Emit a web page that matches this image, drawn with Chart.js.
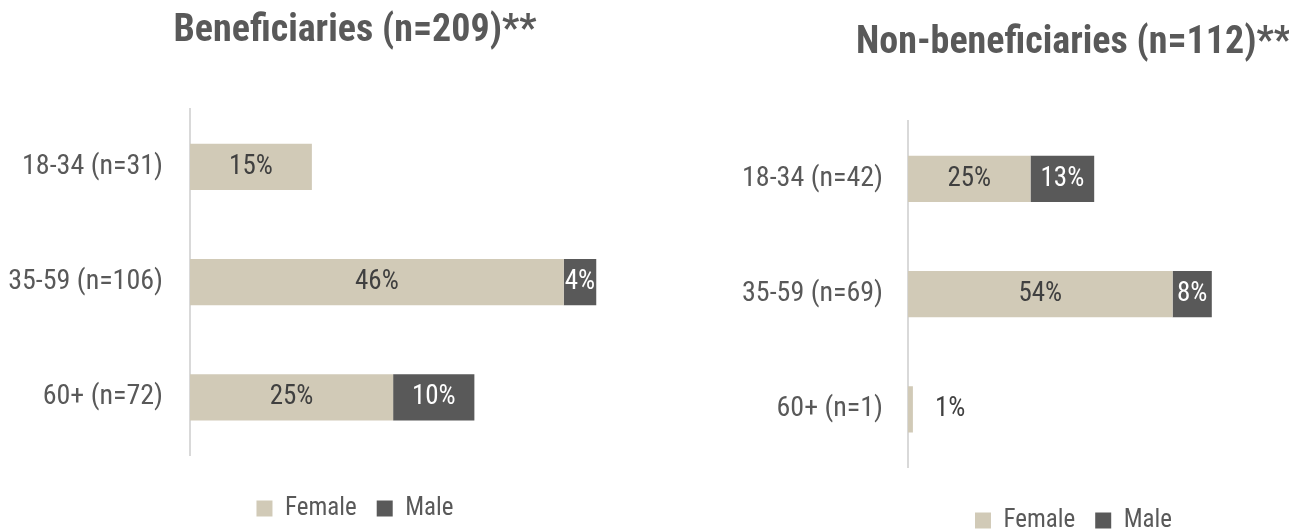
<!DOCTYPE html>
<html>
<head>
<meta charset="utf-8">
<title>Beneficiaries by age and sex</title>
<script src="https://cdn.jsdelivr.net/npm/chart.js@4"></script>
<style>
  html, body { margin: 0; padding: 0; background: #fff; overflow: hidden; }
  #leftChart { position: absolute; left: 0; top: 0; }
  #rightChart { position: absolute; left: 700px; top: 12px; }
</style>
</head>
<body>
<canvas id="leftChart" width="710" height="531"></canvas>
<canvas id="rightChart" width="747" height="531"></canvas>
<script>
// data (percent)
const seriesNames = ["Female", "Male"];

const benefTitle = "Beneficiaries (n=209)**";
const benefAges = ["18-34 (n=31)", "35-59 (n=106)", "60+ (n=72)"];
const benefFemale = [15, 46, 25];
const benefMale = [0, 4, 10];

const nonBenefTitle = "Non-beneficiaries (n=112)**";
const nonBenefAges = ["18-34 (n=42)", "35-59 (n=69)", "60+ (n=1)"];
const nonBenefFemale = [25, 54, 1];
const nonBenefMale = [13, 8, 0];

const FONT = "'Liberation Sans Narrow', 'Roboto Condensed', 'DejaVu Sans Condensed', sans-serif";
const femaleColor = "#d1cab7";
const maleColor = "#595959";
const textColor = "#595959";

Chart.defaults.font.family = FONT;
Chart.defaults.color = textColor;

// labels inside the bars (or just after a bar that is too thin)
const barLabels = {
  id: "barLabels",
  afterDatasetsDraw(chart) {
    const ctx = chart.ctx;
    ctx.save();
    ctx.font = "27px " + FONT;
    ctx.textBaseline = "middle";
    chart.data.datasets.forEach((ds, di) => {
      const meta = chart.getDatasetMeta(di);
      meta.data.forEach((bar, i) => {
        const v = ds.data[i];
        if (!v) return;
        const txt = v + "%";
        const w = Math.abs(bar.x - bar.base);
        if (w < 15) {
          ctx.fillStyle = "#404040";
          ctx.textAlign = "left";
          ctx.fillText(txt, bar.x + 22, bar.y);
        } else {
          ctx.fillStyle = di === 0 ? "#404040" : "#ffffff";
          ctx.textAlign = "center";
          ctx.fillText(txt, (bar.x + bar.base) / 2, bar.y);
        }
      });
    });
    ctx.restore();
  },
};

// the plot runs to the canvas edge so that title and legend centre where the picture has them
function makeChart(id, title, ages, female, male, xMax, yAxisWidth, tickPad) {
  return new Chart(document.getElementById(id), {
    type: "bar",
    data: {
      labels: ages,
      datasets: [
        { label: seriesNames[0], data: female, backgroundColor: femaleColor, borderWidth: 0 },
        { label: seriesNames[1], data: male, backgroundColor: maleColor, borderWidth: 0 },
      ],
    },
    options: {
      indexAxis: "y",
      responsive: false,
      animation: false,
      datasets: { bar: { barPercentage: 0.5, categoryPercentage: 0.8 } },
      scales: {
        x: {
          stacked: true,
          min: 0,
          max: xMax,
          grid: { display: false, drawTicks: false },
          border: { display: false },
          ticks: { display: false },
          afterFit: (scale) => { scale.height = 21; },
        },
        y: {
          stacked: true,
          grid: { display: false, drawTicks: false },
          border: { display: true, color: "#d9d9d9", width: 2 },
          ticks: { color: textColor, font: { size: 28 }, padding: tickPad },
          afterFit: (scale) => { scale.width = yAxisWidth; },
        },
      },
      plugins: {
        title: {
          display: true,
          text: title,
          color: textColor,
          font: { size: 38, weight: "bold", lineHeight: 1.2 },
          padding: { top: 9, bottom: 54.6 },
        },
        legend: {
          position: "bottom",
          labels: {
            color: textColor,
            font: { size: 25 },
            boxWidth: 16,
            boxHeight: 16,
            padding: 20,
          },
        },
        tooltip: { enabled: false },
      },
    },
    plugins: [barLabels],
  });
}

makeChart("leftChart", benefTitle, benefAges, benefFemale, benefMale, 64, 190, 27);
makeChart("rightChart", nonBenefTitle, nonBenefAges, nonBenefFemale, nonBenefMale, 110, 208, 25);
</script>
</body>
</html>
